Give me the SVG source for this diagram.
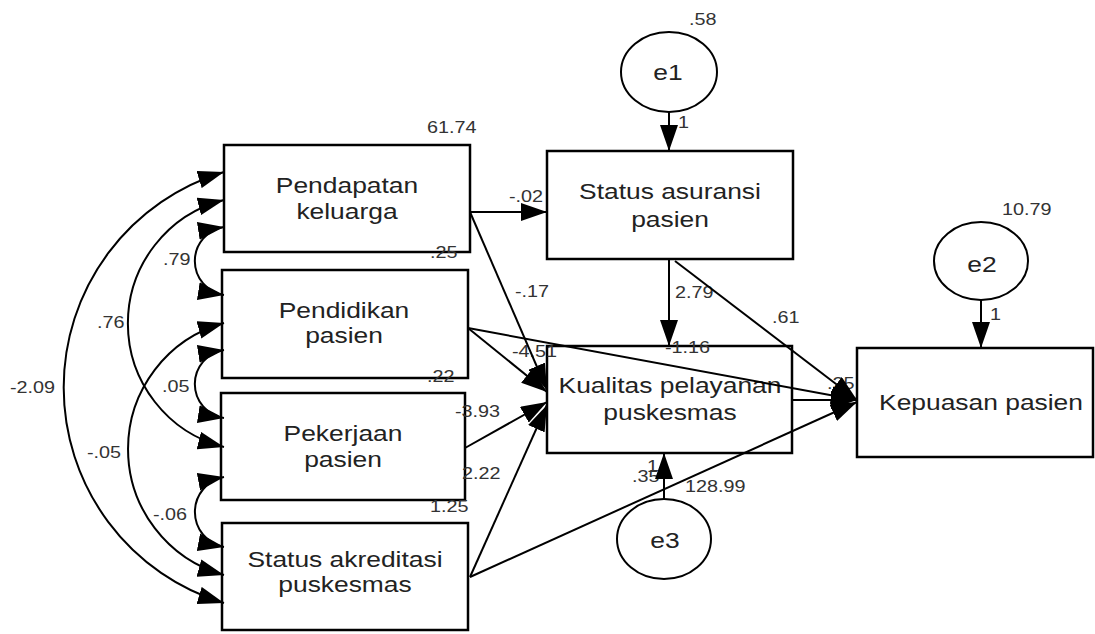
<svg xmlns="http://www.w3.org/2000/svg" width="1095" height="634" viewBox="0 0 1095 634">
<style>
.box{fill:#fff;stroke:#000;stroke-width:2.5}
.ell{fill:#fff;stroke:#000;stroke-width:2}
.lbl{font-family:"Liberation Sans",Arial,sans-serif;font-size:22px;fill:#222;text-anchor:middle}
.num{font-family:"Liberation Sans",Arial,sans-serif;font-size:16.5px;fill:#333;text-anchor:start}
.c{fill:none;stroke:#000;stroke-width:2;marker-end:url(#ah)}
.cv{fill:none;stroke:#000;stroke-width:2;marker-end:url(#ah);marker-start:url(#ah)}
</style>
<defs>
<marker id="ah" viewBox="0 0 26 18" markerWidth="26" markerHeight="18" refX="26" refY="9" orient="auto-start-reverse" markerUnits="userSpaceOnUse">
<path d="M0,0 L26,9 L0,18 Z" fill="#000"/>
</marker>
</defs>
<rect width="1095" height="634" fill="#fff"/>

<g id="pendapatan">
<rect class="box" x="224" y="145" width="246" height="107"/>
<text class="lbl" transform="translate(347 193) scale(1.2 1)">Pendapatan</text>
<text class="lbl" transform="translate(347 219) scale(1.2 1)">keluarga</text>
</g>
<g id="pendidikan">
<rect class="box" x="222" y="270" width="246" height="108"/>
<text class="lbl" transform="translate(344 318) scale(1.2 1)">Pendidikan</text>
<text class="lbl" transform="translate(344 343) scale(1.2 1)">pasien</text>
</g>
<g id="pekerjaan">
<rect class="box" x="221" y="393" width="244" height="107"/>
<text class="lbl" transform="translate(343 441) scale(1.2 1)">Pekerjaan</text>
<text class="lbl" transform="translate(343 467) scale(1.2 1)">pasien</text>
</g>
<g id="akreditasi">
<rect class="box" x="222" y="523" width="246" height="107"/>
<text class="lbl" transform="translate(345 567) scale(1.2 1)">Status akreditasi</text>
<text class="lbl" transform="translate(345 592) scale(1.2 1)">puskesmas</text>
</g>
<g id="asuransi">
<rect class="box" x="547" y="151" width="246" height="108"/>
<text class="lbl" transform="translate(670 199) scale(1.2 1)">Status asuransi</text>
<text class="lbl" transform="translate(670 227) scale(1.2 1)">pasien</text>
</g>
<g id="kualitas">
<rect class="box" x="547" y="346" width="245" height="107"/>
<text class="lbl" transform="translate(670 393) scale(1.2 1)">Kualitas pelayanan</text>
<text class="lbl" transform="translate(670 420) scale(1.2 1)">puskesmas</text>
</g>
<g id="kepuasan">
<rect class="box" x="857" y="348" width="236" height="109"/>
<text class="lbl" transform="translate(981 410) scale(1.2 1)">Kepuasan pasien</text>
</g>
<g id="e1">
<ellipse class="ell" cx="669" cy="72" rx="48" ry="40"/>
<text class="lbl" transform="translate(668 80) scale(1.2 1)">e1</text>
</g>
<g id="e2">
<ellipse class="ell" cx="981" cy="261" rx="47" ry="39"/>
<text class="lbl" transform="translate(982 272) scale(1.2 1)">e2</text>
</g>
<g id="e3">
<ellipse class="ell" cx="664" cy="539" rx="47" ry="40"/>
<text class="lbl" transform="translate(665 548) scale(1.2 1)">e3</text>
</g>

<g id="labels">
<text class="num" transform="translate(427 133) scale(1.2 1)">61.74</text>
<text class="num" transform="translate(689 25) scale(1.2 1)">.58</text>
<text class="num" transform="translate(678 128) scale(1.2 1)">1</text>
<text class="num" transform="translate(1002 215) scale(1.2 1)">10.79</text>
<text class="num" transform="translate(990 320) scale(1.2 1)">1</text>
<text class="num" transform="translate(509 202) scale(1.2 1)">-.02</text>
<text class="num" transform="translate(430 258) scale(1.2 1)">.25</text>
<text class="num" transform="translate(515 297) scale(1.2 1)">-.17</text>
<text class="num" transform="translate(675 298) scale(1.2 1)">2.79</text>
<text class="num" transform="translate(772 323) scale(1.2 1)">.61</text>
<text class="num" transform="translate(512 357) scale(1.2 1)">-4.51</text>
<text class="num" transform="translate(665 353) scale(1.2 1)">-1.16</text>
<text class="num" transform="translate(427 382) scale(1.2 1)">.22</text>
<text class="num" transform="translate(827 389) scale(1.2 1)">.25</text>
<text class="num" transform="translate(455 417) scale(1.2 1)">-3.93</text>
<text class="num" transform="translate(462 479) scale(1.2 1)">2.22</text>
<text class="num" transform="translate(430 512) scale(1.2 1)">1.25</text>
<text class="num" transform="translate(632 482) scale(1.2 1)">.35</text>
<text class="num" transform="translate(647 472) scale(1.2 1)">1</text>
<text class="num" transform="translate(685 492) scale(1.2 1)">128.99</text>
<text class="num" transform="translate(163 265) scale(1.2 1)">.79</text>
<text class="num" transform="translate(97 328) scale(1.2 1)">.76</text>
<text class="num" transform="translate(10 393) scale(1.2 1)">-2.09</text>
<text class="num" transform="translate(162 392) scale(1.2 1)">.05</text>
<text class="num" transform="translate(87 458) scale(1.2 1)">-.05</text>
<text class="num" transform="translate(153 520) scale(1.2 1)">-.06</text>
</g>

<g id="connectors">
<path class="c" d="M669,112 L669,151"/>
<path class="c" d="M981,300 L981,348"/>
<path class="c" d="M664,499 L664,453"/>
<path class="c" d="M470,212 L547,212"/>
<path class="c" d="M470,212 L547,390"/>
<path class="c" d="M468,328 L547,392"/>
<path class="c" d="M468,328 L857,400"/>
<path class="c" d="M465,448 L547,402"/>
<path class="c" d="M470,577 L547,405"/>
<path class="c" d="M470,577 L857,402"/>
<path class="c" d="M792,400 L857,400"/>
<path class="c" d="M669,259 L669,346"/>
<path class="c" d="M675,261 L857,400"/>
<path class="cv" d="M224,172 A225,225 0 0 0 224,603"/>
<path class="cv" d="M224,200 A127.4,127.4 0 0 0 224,447"/>
<path class="cv" d="M224,323 A130.7,130.7 0 0 0 224,575"/>
<path class="cv" d="M224,227 A34.4,34.4 0 0 0 224,295"/>
<path class="cv" d="M224,350 A34.4,34.4 0 0 0 224,418"/>
<path class="cv" d="M224,477 A35.6,35.6 0 0 0 224,547"/>
</g>
</svg>
